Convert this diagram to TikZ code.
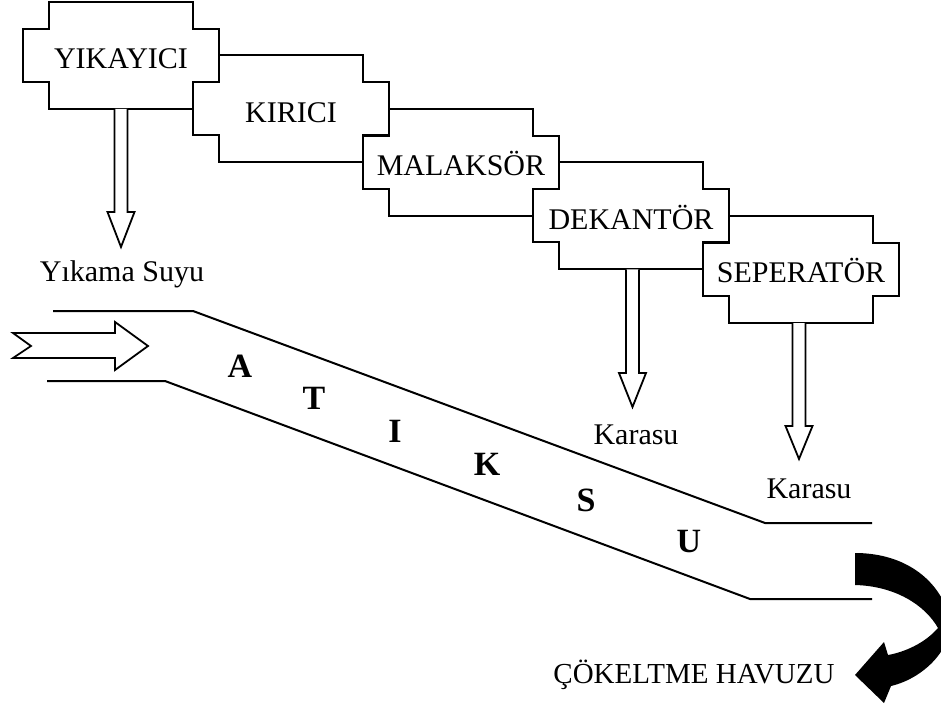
\documentclass[tikz,border=0pt]{standalone}
\usepackage{fontspec}
\setmainfont{Liberation Serif}
\begin{document}
\begin{tikzpicture}[x=1pt,y=-1pt,
  line join=miter,
  boxline/.style={draw=black, fill=white, line width=2pt},
  flow/.style={draw=black, line width=2pt},
  hollow/.style={draw=black, fill=white, line width=1.8pt},
  lbl/.style={font=\fontsize{30}{36}\selectfont, anchor=base, inner sep=0pt},
  big/.style={font=\fontsize{34}{40}\selectfont\bfseries, anchor=base, inner sep=0pt}]
\useasboundingbox (0,0) rectangle (941,708);
\newcommand\stepbox[4]{%
  \draw[boxline] ({#1+26},{#2}) -- ({#1+170},{#2}) -- ({#1+170},{#2+27}) -- ({#1+196},{#2+27})
    -- ({#1+196},{#2+80}) -- ({#1+170},{#2+80}) -- ({#1+170},{#2+107}) -- ({#1+26},{#2+107})
    -- ({#1+26},{#2+80}) -- ({#1},{#2+80}) -- ({#1},{#2+27}) -- ({#1+26},{#2+27}) -- cycle;
  \node[lbl] (#3) at ({#1+98},{#2+67}) {#4};}
% boxes, back to front
\stepbox{703}{216}{sep}{SEPERATÖR}
\stepbox{533}{162.5}{dek}{DEKANTÖR}
\stepbox{363}{109}{mal}{MALAKSÖR}
\stepbox{193}{55.5}{kir}{KIRICI}
\stepbox{23}{2}{yik}{YIKAYICI}
% hollow down arrows
\newcommand\hollowdown[4]{%
  \draw[hollow] ({#1-6.5},{#2}) -- ({#1-6.5},{#3}) -- ({#1-13.5},{#3}) -- ({#1},{#4})
    -- ({#1+13.5},{#3}) -- ({#1+6.5},{#3}) -- ({#1+6.5},{#2});}
\hollowdown{121}{109}{212}{247}
\hollowdown{632.5}{269.5}{373}{407}
\hollowdown{799}{323}{426}{459}
\node[lbl] (yik-out) at (122,282) {Yıkama Suyu};
\node[lbl] (kara1) at (636,444) {Karasu};
\node[lbl] (kara2) at (809,498) {Karasu};
% inlet arrow
\draw[hollow] (13,333) -- (115,333) -- (115,322) -- (148,346) -- (115,370) -- (115,358)
  -- (13,358) -- (31,346) -- cycle;
% channel
\coordinate (u1) at (53,311); \coordinate (u2) at (193,311);
\coordinate (u3) at (765,523); \coordinate (u4) at (872,523);
\coordinate (l1) at (47,381); \coordinate (l2) at (165,381);
\coordinate (l3) at (750,599); \coordinate (l4) at (872,599);
\draw[flow] (u1) -- (u2) -- (u3) -- (u4);
\draw[flow] (l1) -- (l2) -- (l3) -- (l4);
% letters
\node[big] (lA) at (240,377) {A};
\node[big] (lT) at (314,409) {T};
\node[big] (lI) at (395,442) {I};
\node[big] (lK) at (487,475) {K};
\node[big] (lS) at (586,511) {S};
\node[big] (lU) at (689,552) {U};
% curved black arrow
\fill[black] (855,553) .. controls (900,553) and (935,575) .. (948,612)
  .. controls (958,645) and (925,678) .. (891,686)
  -- (884,703) -- (855,675) -- (884,642) -- (888,655)
  .. controls (905,652) and (925,643) .. (938,628)
  .. controls (925,605) and (895,586) .. (855,585) -- cycle;
\node[lbl, font=\fontsize{29}{35}\selectfont] (pool) at (694,683) {ÇÖKELTME HAVUZU};
\end{tikzpicture}
\end{document}
